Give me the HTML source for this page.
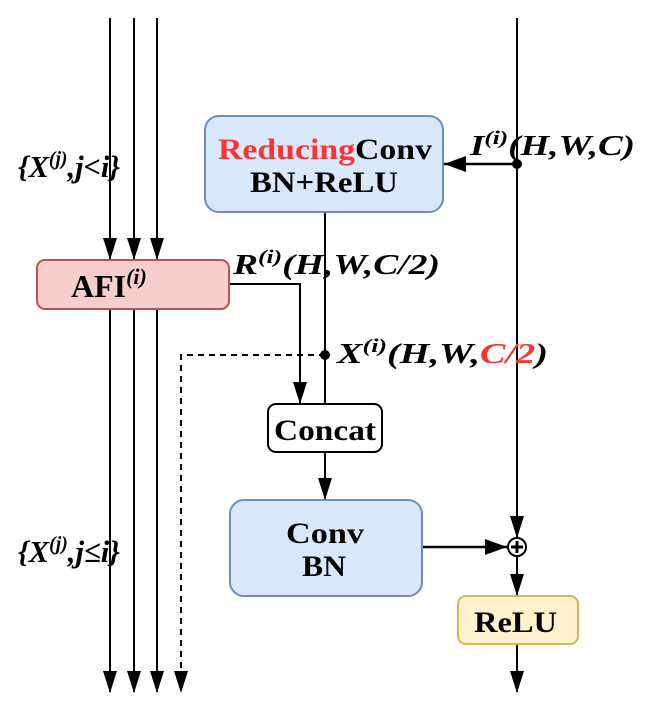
<!DOCTYPE html>
<html><head><style>body{margin:0;background:#fff}svg text{font-family:"Liberation Serif",serif;font-weight:bold}</style></head><body>
<svg width="664" height="718" viewBox="0 0 664 718" xmlns="http://www.w3.org/2000/svg">
<defs>
<marker id="b" markerWidth="16" markerHeight="22" refX="8" refY="21" orient="0" markerUnits="userSpaceOnUse"><path d="M1,0 L8,22 L15,0 z" fill="#000"/></marker></defs>
<g stroke="#000" stroke-width="2" fill="none">
<line x1="110" y1="18" x2="110" y2="259" marker-end="url(#b)"/>
<line x1="134" y1="18" x2="134" y2="259" marker-end="url(#b)"/>
<line x1="157" y1="18" x2="157" y2="259" marker-end="url(#b)"/>
<line x1="110" y1="309" x2="110" y2="692" marker-end="url(#b)"/>
<line x1="134" y1="309" x2="134" y2="692" marker-end="url(#b)"/>
<line x1="157" y1="309" x2="157" y2="692" marker-end="url(#b)"/>
<path d="M325,355 H181 V692" stroke-dasharray="6,5" marker-end="url(#b)"/>
<path d="M229,284 H300 V403" marker-end="url(#b)"/>
<line x1="325" y1="212" x2="325" y2="404"/>
<line x1="325" y1="452" x2="325" y2="499" marker-end="url(#b)"/>
<line x1="517" y1="18" x2="517" y2="537" marker-end="url(#b)"/>
<line x1="517" y1="164" x2="444" y2="164" stroke-width="2.5"/>
<line x1="422" y1="547" x2="507" y2="547" stroke-width="2.5"/>
<line x1="517" y1="557" x2="517" y2="595" marker-end="url(#b)"/>
<line x1="517" y1="644" x2="517" y2="692" marker-end="url(#b)"/>
</g>
<path d="M444,164 L466,156 L466,172 z"/>
<path d="M507,547 L485,539 L485,555 z"/>
<circle cx="517" cy="164" r="5"/><circle cx="325" cy="355" r="5"/>
<circle cx="517" cy="547" r="9" fill="#fff" stroke="#000" stroke-width="2"/>
<path d="M517,541 V553 M511,547 H523" stroke="#000" stroke-width="3"/>
<rect x="205" y="116" width="238" height="96" rx="14" fill="#dae8fc" stroke="#6c8ebf" stroke-width="2"/>
<rect x="37" y="260" width="192" height="49" rx="8" fill="#f8cecc" stroke="#b85450" stroke-width="2"/>
<rect x="268" y="404" width="114" height="48" rx="8" fill="#fff" stroke="#000" stroke-width="2"/>
<rect x="230" y="500" width="192" height="96" rx="14" fill="#dae8fc" stroke="#6c8ebf" stroke-width="2"/>
<rect x="458" y="596" width="120" height="48" rx="8" fill="#fff2cc" stroke="#d6b656" stroke-width="2"/>
<g font-size="30">
<text x="218" y="159" textLength="214" lengthAdjust="spacingAndGlyphs"><tspan fill="#ff3333">Reducing</tspan>Conv</text>
<text x="250" y="192" textLength="148" lengthAdjust="spacingAndGlyphs">BN+ReLU</text>
<text x="71" y="297" font-size="32">AFI<tspan font-style="italic" font-size="22" dy="-13">(i)</tspan></text>
<text x="274" y="440" textLength="102" lengthAdjust="spacingAndGlyphs">Concat</text>
<text x="286" y="543" textLength="78" lengthAdjust="spacingAndGlyphs">Conv</text>
<text x="302" y="576" textLength="44" lengthAdjust="spacingAndGlyphs">BN</text>
<text x="474" y="632" textLength="83" lengthAdjust="spacingAndGlyphs">ReLU</text>
</g>
<g font-size="28" font-style="italic">
<text x="18" y="177" font-size="31" textLength="102" lengthAdjust="spacingAndGlyphs">{X<tspan font-size="20" dy="-12">(j)</tspan><tspan dy="12">,j&lt;i}</tspan></text>
<text x="18" y="562" font-size="31" textLength="102" lengthAdjust="spacingAndGlyphs">{X<tspan font-size="20" dy="-12">(j)</tspan><tspan dy="12">,j≤i}</tspan></text>
<text x="470" y="155" textLength="165" lengthAdjust="spacingAndGlyphs">I<tspan font-size="19" dy="-11">(i)</tspan><tspan dy="11">(H,W,C)</tspan></text>
<text x="233" y="274" textLength="207" lengthAdjust="spacingAndGlyphs">R<tspan font-size="19" dy="-11">(i)</tspan><tspan dy="11">(H,W,C/2)</tspan></text>
<text x="337" y="363" textLength="211" lengthAdjust="spacingAndGlyphs">X<tspan font-size="19" dy="-11">(i)</tspan><tspan dy="11">(H,W,</tspan><tspan fill="#ff3333">C/2</tspan>)</text>
</g>
</svg></body></html>
